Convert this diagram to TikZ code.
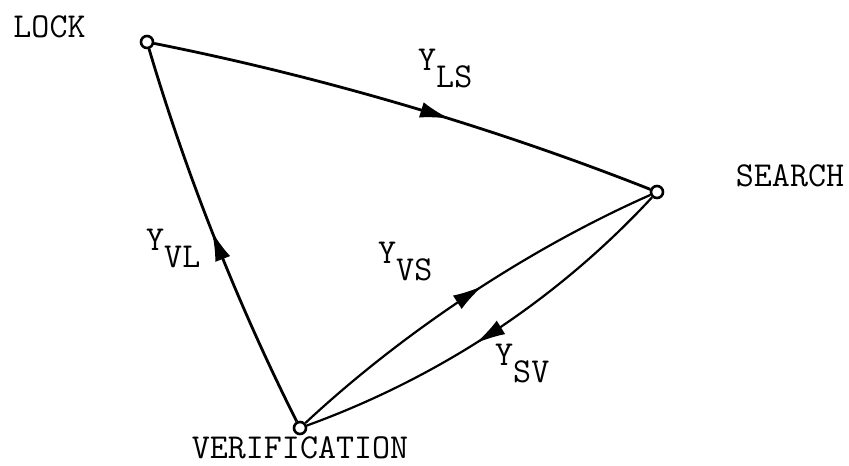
\documentclass[tikz,border=0pt]{standalone}
\usepackage{fontspec}
\usetikzlibrary{arrows.meta,decorations.markings}
\newcommand\ysub[1]{Y\raisebox{-17pt}{#1}}
\tikzset{
  statept/.style={circle,draw,line width=2.6pt,minimum size=12pt,inner sep=0pt},
  lbl/.style={font=\fontsize{35}{35}\selectfont\ttfamily\addfontfeatures{FakeBold=0.8},inner sep=0pt},
  thickedge/.style={line width=2.8pt},
  thinedge/.style={line width=2.2pt},
  midarrow/.style={postaction={decorate},decoration={markings,mark=at position #1 with {\arrow{Latex[length=30pt,width=16pt]}}}},
}
\begin{document}
\begin{tikzpicture}[x=1pt,y=-1pt]
\useasboundingbox (0,0) rectangle (849,466);
% states
\node[statept] (L) at (147,42) {};
\node[statept] (S) at (657,192) {};
\node[statept] (V) at (300,428) {};
% state names
\node[lbl] (lockt) at (49.5,26.5) {LOCK};
\node[lbl] (searcht) at (790,176) {SEARCH};
\node[lbl] (verit) at (300,447.5) {VERIFICATION};
% transitions
\draw[thickedge,midarrow=0.59] (L) .. controls (321.5,76.7) and (491.5,126.7) .. (S);
\draw[thickedge,midarrow=0.52] (V) .. controls (237.5,303.9) and (186.5,175.3) .. (L);
\draw[thinedge,midarrow=0.54] (V) .. controls (403,332) and (528,249) .. (S);
\draw[thinedge,midarrow=0.55] (S) .. controls (557,300) and (438,378) .. (V);
% transition labels
\node[lbl,anchor=base west] (yls) at (418,70) {\ysub{LS}};
\node[lbl,anchor=base west] (yvl) at (146,250) {\ysub{VL}};
\node[lbl,anchor=base west] (yvs) at (378,263) {\ysub{VS}};
\node[lbl,anchor=base west] (ysv) at (495,365) {\ysub{SV}};
\end{tikzpicture}
\end{document}
